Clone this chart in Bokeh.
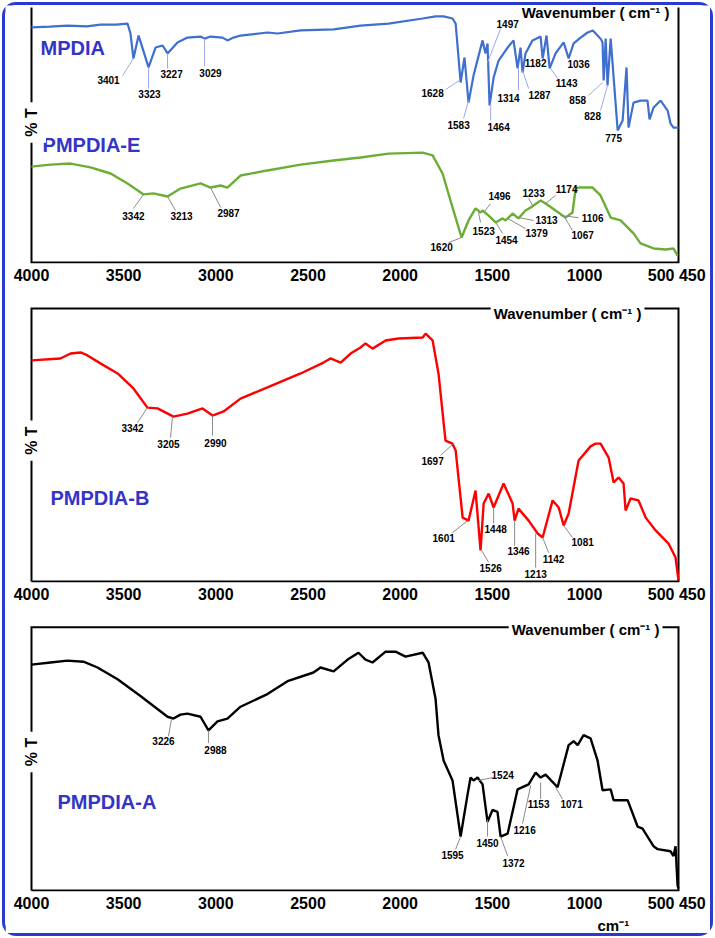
import math
from bokeh.plotting import figure
from bokeh.layouts import column
from bokeh.models import Range1d, Label, FixedTicker, ColumnDataSource, Title
from bokeh.core.properties import value
from bokeh.embed import file_html
from bokeh.resources import INLINE

# ---------------- data (wavenumber cm-1, %T) ----------------
TICKS = [4000, 3500, 3000, 2500, 2000, 1500, 1000, 500]
TICK_OVERRIDES = {500: "500 450"}
X_LIMITS = [4000, 490]      # drawn axis box, wavenumber
T_LIMITS = [0, 100]         # drawn axis box, %T

mpdia_w = [4000, 3900, 3805, 3700, 3626, 3540, 3479, 3463, 3447, 3419, 3365, 3327, 3289, 3262,
           3208, 3154, 3083, 3061, 3029, 2964, 2937, 2904, 2866, 2720, 2665, 2540, 2361, 2215,
           2063, 1878, 1808, 1764, 1716, 1699, 1672, 1651, 1629, 1602, 1553, 1537, 1526, 1515,
           1493, 1466, 1417, 1385, 1363, 1347, 1336, 1320, 1282, 1238, 1227, 1206, 1189, 1157,
           1113, 1086, 1059, 1021, 983, 955, 929, 910, 902, 896, 885, 875, 858, 820, 793, 772,
           761, 734, 696, 658, 647, 625, 587, 549, 533, 517, 490]
mpdia_t = [92.2, 92.5, 92.9, 92.6, 93.3, 93.3, 93.7, 89.8, 80.0, 89.0, 76.5, 84.3, 85.1, 82.0,
           86.3, 88.2, 88.6, 87.8, 88.6, 88.2, 87.1, 88.2, 89.0, 90.2, 89.8, 91.0, 91.4, 92.9,
           93.7, 95.7, 96.5, 96.5, 95.7, 93.7, 70.6, 80.4, 62.7, 73.3, 87.1, 82.0, 85.9, 61.6,
           72.5, 79.2, 84.3, 87.1, 76.1, 84.3, 74.5, 82.0, 87.1, 88.6, 80.0, 89.0, 76.1, 82.0,
           86.3, 80.0, 85.9, 88.2, 90.2, 91.0, 89.0, 87.5, 86.3, 71.4, 87.8, 69.4, 87.8, 51.8,
           55.7, 76.5, 52.9, 62.7, 63.5, 63.5, 56.1, 60.8, 63.5, 59.6, 54.5, 52.9, 52.9]

pmpdia_e_w = [4000, 3897, 3788, 3680, 3571, 3479, 3392, 3338, 3262, 3192, 3083, 3029, 2974, 2937,
              2866, 2720, 2540, 2361, 2215, 2063, 1878, 1824, 1770, 1716, 1667, 1629, 1591, 1564,
              1553, 1520, 1482, 1444, 1428, 1390, 1358, 1320, 1292, 1238, 1211, 1157, 1103, 1065,
              1048, 1032, 956, 913, 858, 804, 734, 696, 625, 560, 517, 495]
pmpdia_e_t = [37.6, 38.4, 38.8, 37.3, 34.9, 31.0, 26.7, 27.1, 25.9, 29.0, 31.0, 29.4, 30.2, 29.4,
              34.1, 36.1, 38.4, 40.0, 41.2, 42.7, 43.1, 42.0, 34.9, 21.6, 9.8, 16.5, 21.2, 19.6,
              20.4, 18.4, 15.7, 17.3, 16.5, 19.2, 17.3, 20.4, 21.6, 24.3, 23.1, 20.4, 17.6, 19.6,
              29.0, 29.4, 29.4, 26.3, 17.6, 16.5, 11.4, 7.5, 5.5, 5.1, 5.5, 2.7]

pmpdia_b_w = [4000, 3843, 3788, 3734, 3696, 3626, 3533, 3447, 3371, 3316, 3230, 3154, 3072, 3018,
              2958, 2866, 2720, 2540, 2416, 2378, 2323, 2269, 2215, 2188, 2150, 2079, 2009, 1878,
              1862, 1824, 1792, 1754, 1716, 1699, 1661, 1629, 1591, 1564, 1547, 1520, 1493, 1439,
              1390, 1379, 1358, 1303, 1254, 1227, 1173, 1140, 1113, 1086, 1032, 967, 940, 913,
              869, 842, 815, 788, 777, 750, 707, 668, 614, 544, 506, 490]
pmpdia_b_t = [81.0, 81.7, 83.5, 83.9, 82.8, 79.9, 76.2, 70.7, 63.7, 63.4, 60.4, 61.5, 63.4, 60.8,
              62.3, 67.0, 71.1, 76.2, 80.2, 81.7, 80.2, 83.5, 85.7, 87.2, 85.3, 88.3, 89.0, 89.4,
              90.8, 88.3, 76.2, 51.6, 50.5, 48.0, 23.4, 22.3, 33.3, 11.4, 28.6, 32.2, 27.1, 35.9,
              28.6, 22.3, 26.7, 22.3, 17.6, 16.1, 29.7, 27.1, 20.5, 24.9, 44.3, 49.5, 50.5, 50.5,
              45.4, 36.3, 38.1, 35.9, 26.0, 30.4, 29.7, 23.4, 18.7, 13.9, 8.8, 0.4]

pmpdia_a_w = [4000, 3897, 3805, 3718, 3642, 3533, 3409, 3262, 3230, 3192, 3154, 3083, 3040, 2991,
              2937, 2866, 2720, 2611, 2470, 2432, 2361, 2285, 2226, 2188, 2150, 2079, 2025, 1971,
              1878, 1846, 1808, 1792, 1764, 1716, 1672, 1634, 1618, 1602, 1580, 1553, 1526, 1499,
              1472, 1455, 1417, 1363, 1303, 1265, 1238, 1211, 1146, 1086, 1059, 1037, 1005, 967,
              929, 902, 858, 842, 766, 712, 685, 625, 603, 533, 517, 506, 495, 490]
pmpdia_a_t = [85.8, 86.6, 87.3, 86.9, 84.7, 80.2, 73.9, 66.0, 65.3, 66.8, 67.2, 66.0, 60.8, 64.2,
              65.3, 69.8, 74.6, 79.5, 82.8, 84.7, 83.2, 87.7, 90.3, 87.7, 86.6, 90.7, 90.7, 88.8,
              90.3, 86.6, 72.8, 59.0, 49.3, 41.8, 20.5, 36.6, 42.9, 41.8, 42.9, 40.3, 26.1, 30.6,
              29.9, 20.5, 21.6, 38.4, 40.3, 44.8, 42.9, 44.0, 39.2, 55.2, 56.7, 55.2, 59.0, 57.8,
              49.3, 38.1, 38.4, 34.3, 34.3, 24.3, 23.5, 16.8, 15.7, 14.9, 13.1, 16.8, 1.9, 0.7]

# peak annotations: text, curve point (tip), leader end, label centre
mpdia_peaks = ["3401", "3323", "3227", "3029", "1628", "1583", "1497", "1464", "1314",
               "1287", "1182", "1143", "1036", "858", "828", "775"]
mpdia_tip_w = [3447, 3365, 3262, 3061, 1678, 1629, 1526, 1509, 1358, 1336, 1265, 1184, 1032, 902, 875, 842]
mpdia_tip_t = [80.0, 76.5, 82.0, 87.8, 71.4, 63.5, 78.4, 62.4, 76.5, 75.3, 78.4, 76.1, 78.0, 70.6, 69.4, 49.0]
mpdia_end_w = [3506, 3365, 3262, 3061, 1754, 1656, 1455, 1509, 1358, 1303, 1265, 1146, 1032, 978, 913, 842]
mpdia_end_t = [73.3, 68.2, 76.1, 76.9, 67.8, 56.5, 91.8, 55.7, 67.5, 68.2, 78.4, 72.2, 78.0, 65.5, 59.6, 49.0]
mpdia_lab_w = [3582, 3360, 3240, 3029, 1824, 1683, 1417, 1466, 1412, 1244, 1265, 1097, 1032, 1037, 956, 842]
mpdia_lab_t = [71.4, 65.9, 74.1, 74.5, 66.3, 54.1, 93.7, 53.3, 64.7, 65.5, 78.4, 70.2, 78.0, 63.9, 57.6, 49.0]

pe_peaks = ["3342", "3213", "2987", "1620", "1523", "1496", "1454", "1379", "1313",
            "1233", "1174", "1106", "1067"]
pe_tip_w = [3392, 3262, 3029, 1667, 1575, 1547, 1482, 1417, 1358, 1282, 1211, 1130, 1113]
pe_tip_t = [26.7, 25.9, 29.4, 9.8, 19.6, 19.6, 15.7, 17.3, 17.6, 22.4, 23.1, 18.4, 18.4]
pe_end_w = [3447, 3219, 2974, 1737, 1564, 1509, 1444, 1320, 1276, 1303, 1157, 1032, 1065]
pe_end_t = [21.2, 20.4, 21.6, 7.8, 15.7, 23.1, 11.4, 13.3, 16.5, 25.1, 26.3, 17.6, 12.5]
pe_lab_w = [3447, 3186, 2931, 1775, 1547, 1461, 1423, 1260, 1206, 1276, 1097, 956, 1010]
pe_lab_t = [18.4, 18.4, 19.6, 5.9, 12.2, 25.9, 9.0, 11.4, 16.5, 27.1, 29.0, 17.6, 10.6]

pb_peaks = ["3342", "3205", "2990", "1697", "1601", "1526", "1448", "1346", "1213", "1142", "1081"]
pb_tip_w = [3371, 3235, 3018, 1716, 1634, 1558, 1493, 1379, 1265, 1227, 1113]
pb_tip_t = [63.7, 60.4, 60.8, 50.2, 22.3, 11.4, 27.1, 22.3, 17.6, 16.1, 20.5]
pb_end_w = [3425, 3246, 3018, 1781, 1716, 1520, 1493, 1379, 1265, 1195, 1065]
pb_end_t = [58.2, 52.7, 53.5, 46.2, 17.9, 7.0, 21.2, 13.2, 5.1, 10.6, 16.1]
pb_lab_w = [3452, 3257, 3002, 1824, 1764, 1509, 1482, 1358, 1265, 1168, 1010]
pb_lab_t = [56.4, 50.5, 50.9, 44.0, 16.1, 4.8, 19.4, 11.0, 2.9, 8.4, 14.3]

pa_peaks = ["3226", "2988", "1595", "1524", "1450", "1372", "1216", "1153", "1071"]
pa_tip_w = [3240, 3040, 1672, 1575, 1526, 1455, 1292, 1238, 1157]
pa_tip_t = [65.3, 60.8, 20.5, 41.8, 26.9, 20.5, 39.9, 41.0, 39.2]
pa_end_w = [3257, 3040, 1699, 1499, 1526, 1417, 1336, 1238, 1119]
pa_end_t = [58.6, 56.0, 15.7, 42.9, 20.5, 13.1, 25.4, 34.7, 34.7]
pa_lab_w = [3284, 3002, 1716, 1444, 1526, 1385, 1325, 1249, 1070]
pa_lab_t = [56.7, 53.4, 13.4, 44.0, 17.9, 10.4, 23.1, 32.8, 32.8]

# ---------------- styling / layout ----------------
FONT = "Liberation Sans"
NAME_COLOR = "#3434c6"
FIG_W = 705
BOX_LEFT_PX = 26      # gap between figure edge and drawn box (left)
BOX_RIGHT_PX = 32     # gap between drawn box and figure edge (right)
BOX_W_PX = FIG_W - BOX_LEFT_PX - BOX_RIGHT_PX
UNITS_PER_PX = (X_LIMITS[0] - X_LIMITS[1]) / BOX_W_PX


def make_panel(h, top_px, box_h_px, top_line=True):
    bottom = h - top_px - box_h_px - 1
    t_per_px = (T_LIMITS[1] - T_LIMITS[0]) / box_h_px
    p = figure(width=FIG_W, height=h,
               x_range=Range1d(X_LIMITS[0] + BOX_LEFT_PX * UNITS_PER_PX,
                               X_LIMITS[1] - BOX_RIGHT_PX * UNITS_PER_PX),
               y_range=Range1d(T_LIMITS[0] - t_per_px, T_LIMITS[1] + top_px * t_per_px),
               output_backend="svg", toolbar_location=None,
               min_border_left=0, min_border_right=0, min_border_top=0,
               min_border_bottom=bottom)
    p.grid.visible = False
    p.yaxis.visible = False
    ax = p.xaxis[0]
    ax.ticker = FixedTicker(ticks=TICKS)
    ax.major_label_overrides = TICK_OVERRIDES
    ax.axis_line_color = None
    ax.major_tick_line_color = None
    ax.minor_tick_line_color = None
    ax.major_tick_out = 0
    ax.major_tick_in = 0
    ax.major_label_standoff = 3
    ax.major_label_text_font = FONT
    ax.major_label_text_font_style = "bold"
    ax.major_label_text_font_size = "16px"
    ax.major_label_text_color = "black"
    p.outline_line_color = None
    p.background_fill_color = "white"
    p.border_fill_color = "white"
    # axis box (panel 1 is closed on top by the outer border)
    x0, x1 = X_LIMITS
    y0, y1 = T_LIMITS
    if top_line:
        bx, by = [x0, x0, x1, x1, x0], [y0, y1, y1, y0, y0]
    else:
        bx, by = [x0, x0, x1, x1], [y1, y0, y0, y1]
    p.line(bx, by, line_color="black", line_width=2, line_join="miter")
    return p


def add_label(p, x, y, text, size, color="black", align="center", angle=0.0, bg=None, pad=0):
    kw = dict(x=x, y=y, text=text, text_font=FONT, text_font_style="bold",
              text_font_size=size, text_color=color, text_align=align,
              text_baseline="middle", angle=angle)
    if bg is not None:
        kw.update(background_fill_color=bg, padding=pad)
    p.add_layout(Label(**kw))


def add_peaks(p, peaks, tw, tt, ew, et, lw, lt, lead_color):
    seg = ColumnDataSource(dict(x0=tw, y0=tt, x1=ew, y1=et))
    p.segment(x0="x0", y0="y0", x1="x1", y1="y1", source=seg, line_color=lead_color, line_width=1)
    src = ColumnDataSource(dict(x=lw, y=lt, text=peaks))
    p.text(x="x", y="y", text="text", source=src, text_font=value(FONT),
           text_font_style="bold", text_font_size="10px", text_align="center",
           text_baseline="middle", text_color="black")


# panel 1: MPDIA + PMPDIA-E
p1 = make_panel(285, 2, 255, top_line=False)
p1.line(mpdia_w, mpdia_t, line_color="#3f6fcf", line_width=2.2)
p1.line(pmpdia_e_w, pmpdia_e_t, line_color="#6cae35", line_width=2.4)
add_peaks(p1, mpdia_peaks, mpdia_tip_w, mpdia_tip_t, mpdia_end_w, mpdia_end_t,
          mpdia_lab_w, mpdia_lab_t, "#9ea8e8")
add_peaks(p1, pe_peaks, pe_tip_w, pe_tip_t, pe_end_w, pe_end_t, pe_lab_w, pe_lab_t, "#8a8a8a")
add_label(p1, 3951, 84.1, "MPDIA", "20px", NAME_COLOR, "left")
add_label(p1, 3940, 46.1, "PMPDIA-E", "20px", NAME_COLOR, "left")
add_label(p1, 4000, 54.9, "% T", "16px", angle=math.pi / 2, bg="white", pad=6)
add_label(p1, 940, 98.0, "Wavenumber ( cm⁻¹ )", "15px", bg="white", pad=2)

# panel 2: PMPDIA-B
p2 = make_panel(320, 18, 273)
p2.line(pmpdia_b_w, pmpdia_b_t, line_color="#ff0000", line_width=2.4)
add_peaks(p2, pb_peaks, pb_tip_w, pb_tip_t, pb_end_w, pb_end_t, pb_lab_w, pb_lab_t, "#8a8a8a")
add_label(p2, 3897, 30.6, "PMPDIA-B", "20px", NAME_COLOR, "left")
add_label(p2, 4000, 51.6, "% T", "16px", angle=math.pi / 2, bg="white", pad=6)
add_label(p2, 1092, 98.3, "Wavenumber ( cm⁻¹ )", "15px", bg="white", pad=3)

# panel 3: PMPDIA-A
p3 = make_panel(323, 17, 268)
p3.line(pmpdia_a_w, pmpdia_a_t, line_color="#000000", line_width=2.4)
add_peaks(p3, pa_peaks, pa_tip_w, pa_tip_t, pa_end_w, pa_end_t, pa_lab_w, pa_lab_t, "#8a8a8a")
add_label(p3, 3859, 33.6, "PMPDIA-A", "20px", NAME_COLOR, "left")
add_label(p3, 4000, 52.6, "% T", "16px", angle=math.pi / 2, bg="white", pad=6)
add_label(p3, 994, 99.3, "Wavenumber ( cm⁻¹ )", "15px", bg="white", pad=3)
p3.add_layout(Title(text="cm⁻¹", align="left", offset=592, standoff=0,
                    text_font=FONT, text_font_style="bold", text_font_size="15px",
                    text_color="black"), "below")

layout = column(p1, p2, p3, spacing=0,
                styles={"border": "3px solid #2b3bd2", "border-radius": "14px",
                        "margin-left": "2px", "margin-top": "2px",
                        "background-color": "white"})

open("out.html", "w").write(file_html(layout, INLINE))
